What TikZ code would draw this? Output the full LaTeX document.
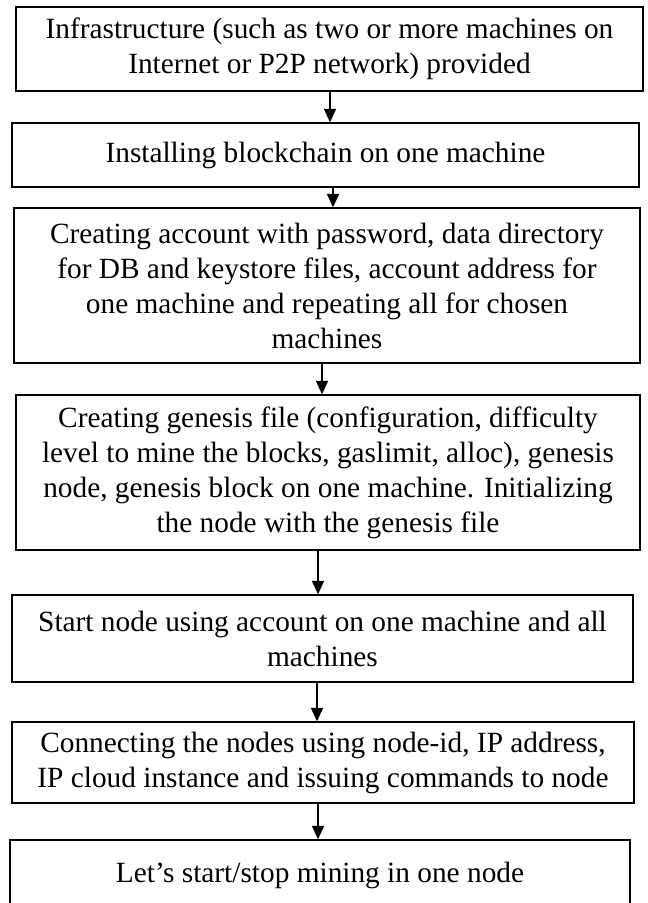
\documentclass[tikz,border=0pt]{standalone}
\usepackage{fontspec}
\setmainfont{Liberation Serif}
\usetikzlibrary{arrows.meta}
\begin{document}
\begin{tikzpicture}[x=0.75pt,y=-0.75pt,
    stepbox/.style={draw, line width=1.1pt, align=center, inner sep=0pt,
      font=\fontsize{22}{26.25}\selectfont},
    flow/.style={line width=1.1pt, -{Triangle[width=9pt,length=10pt]}}]
    \useasboundingbox (0,0) rectangle (647,903);
    \node[stepbox, minimum width=470.25pt, minimum height=63pt] (infra) at (329.5,49)
        {Infrastructure (such as two or more machines on\\ Internet or P2P network) provided};
    \node[stepbox, minimum width=470.25pt, minimum height=48pt] (install) at (325.5,155)
        {Installing blockchain on one machine};
    \node[stepbox, minimum width=469.5pt, minimum height=116.25pt] (account) at (327,285.5)
        {Creating account with password, data directory\\ for DB and keystore files, account address for\\ one machine and repeating all for chosen\\ machines};
    \node[stepbox, minimum width=468pt, minimum height=116.25pt] (genesis) at (328,472.5)
        {Creating genesis file (configuration, difficulty\\ level to mine the blocks, gaslimit, alloc), genesis\\ node, genesis block on one machine. Initializing\\ the node with the genesis file};
    \node[stepbox, minimum width=465.75pt, minimum height=65.25pt] (start) at (322.5,638.5)
        {Start node using account on one machine and all\\ machines};
    \node[stepbox, minimum width=466.5pt, minimum height=60.75pt] (connect) at (323,762.5)
        {Connecting the nodes using node-id, IP address,\\ IP cloud instance and issuing commands to node};
    \node[stepbox, minimum width=465pt, minimum height=52.5pt] (mining) at (320,875)
        {Let’s start/stop mining in one node};
    % arrow columns
    \coordinate (c1) at (330,0);
    \coordinate (c2) at (333,0);
    \coordinate (c3) at (322,0);
    \coordinate (c4) at (318,0);
    \coordinate (c5) at (317,0);
    \coordinate (c6) at (318,0);
    \draw[flow] (infra.south -| c1) -- (install.north -| c1);
    \draw[flow] (install.south -| c2) -- (account.north -| c2);
    \draw[flow] (account.south -| c3) -- (genesis.north -| c3);
    \draw[flow] (genesis.south -| c4) -- (start.north -| c4);
    \draw[flow] (start.south -| c5) -- (connect.north -| c5);
    \draw[flow] (connect.south -| c6) -- (mining.north -| c6);
\end{tikzpicture}
\end{document}
